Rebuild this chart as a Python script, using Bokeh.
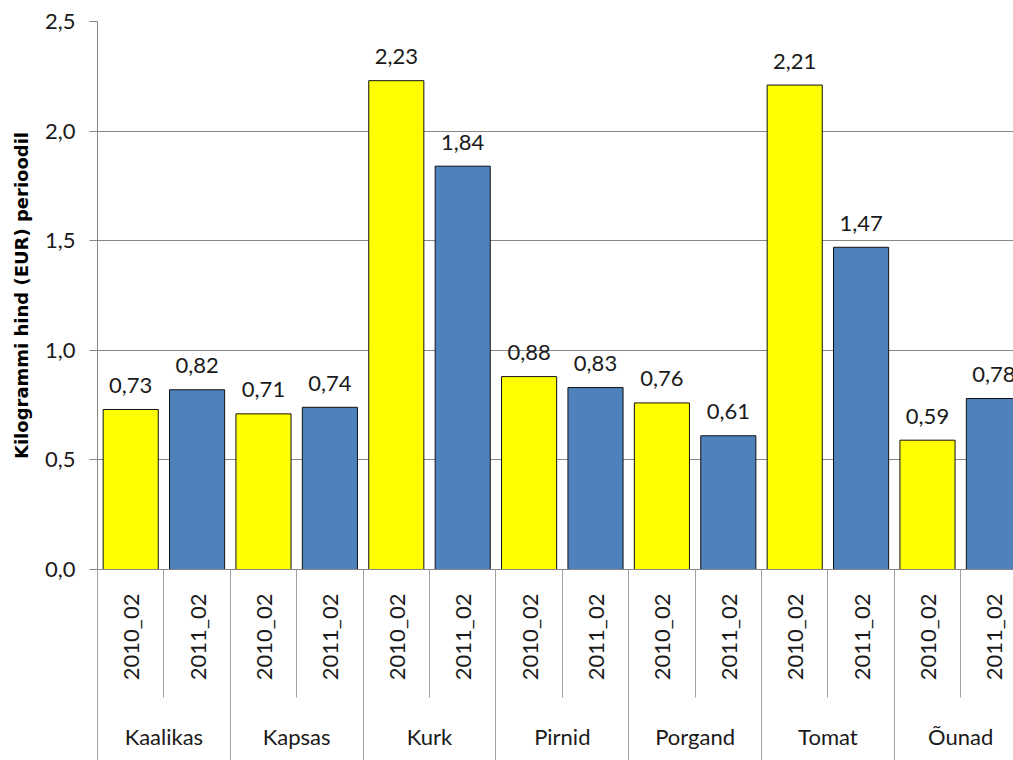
import math
from bokeh.plotting import figure
from bokeh.models import (Range1d, FixedTicker, LinearAxis, CustomJSTickFormatter, ColumnDataSource)
from bokeh.core.properties import value
from bokeh.embed import file_html
from bokeh.resources import INLINE

# ---- data ----
groups = ["Kaalikas", "Kapsas", "Kurk", "Pirnid", "Porgand", "Tomat", "Õunad"]
periods = ["2010_02", "2011_02"]
prices_2010 = [0.73, 0.71, 2.23, 0.88, 0.76, 2.21, 0.59]
prices_2011 = [0.82, 0.74, 1.84, 0.83, 0.61, 1.47, 0.78]
y_ticks = [0.0, 0.5, 1.0, 1.5, 2.0, 2.5]
y_title = "Kilogrammi hind (EUR) perioodil"

period_colors = {"2010_02": "#FFFF00", "2011_02": "#4F81BD"}
FONT = "Lato"
TXT = "#1a1a1a"
GRID = "#878787"
SEP = "#a0a0a0"

# ---- build flat bar table ----
xs, tops, cols, lbls, per = [], [], [], [], []
for gi, g in enumerate(groups):
    for pi_, (pname, vals) in enumerate(zip(periods, [prices_2010, prices_2011])):
        idx = gi * len(periods) + pi_
        xs.append(idx + 0.5)
        tops.append(vals[gi])
        cols.append(period_colors[pname])
        lbls.append(f"{vals[gi]:.2f}".replace(".", ","))
        per.append(pname)
src = ColumnDataSource(dict(x=xs, top=tops, color=cols, label=lbls))

n_bars = len(xs)
slot_px = 66.4
W, H = 1013, 760
LEFT, TOP, BOTTOM = 97, 21, 191
frame_w = W - LEFT

p = figure(width=W, height=H,
           x_range=Range1d(0, frame_w / slot_px), y_range=Range1d(0, 2.5),
           output_backend="svg", toolbar_location=None,
           min_border_left=LEFT, min_border_top=TOP, min_border_right=0,
           min_border_bottom=BOTTOM, x_axis_type=None)
p.outline_line_color = None
p.background_fill_color = "white"
p.border_fill_color = "white"

p.vbar(x="x", top="top", width=0.83, fill_color="color", line_color="#111111",
       line_width=1, source=src)

p.text(x="x", y="top", text="label", source=src, text_align="center",
       text_baseline="alphabetic", y_offset=-24, text_font=value(FONT),
       text_font_size="22px", text_color=TXT)

# ---- y axis ----
ya = p.yaxis[0]
ya.ticker = FixedTicker(ticks=y_ticks)
ya.formatter = CustomJSTickFormatter(code="return tick.toFixed(1).replace('.', ',');")
ya.axis_label = y_title
ya.axis_label_text_font = "DejaVu Sans"
ya.axis_label_text_font_style = "bold"
ya.axis_label_text_font_size = "18px"
ya.axis_label_text_color = "black"
ya.axis_label_standoff = 10
ya.major_label_text_font = FONT
ya.major_label_text_font_size = "22px"
ya.major_label_text_color = TXT
ya.major_label_standoff = 14
ya.major_tick_out = 8
ya.major_tick_in = 0
ya.minor_tick_line_color = None
ya.axis_line_color = GRID
ya.major_tick_line_color = GRID

p.ygrid.ticker = FixedTicker(ticks=y_ticks)
p.ygrid.grid_line_color = GRID
p.xgrid.grid_line_color = None

# ---- x axis: periods ----
centers = xs
boundaries = [float(i) for i in range(n_bars + 1)]
ax1 = LinearAxis(ticker=FixedTicker(ticks=centers, minor_ticks=boundaries),
                 major_label_overrides={c: pr for c, pr in zip(centers, per)})
ax1.major_label_orientation = math.pi / 2
ax1.major_tick_out = 0
ax1.major_tick_in = 0
ax1.major_tick_line_color = None
ax1.minor_tick_out = 0
ax1.minor_tick_in = -128
ax1.minor_tick_line_color = SEP
ax1.axis_line_color = GRID
ax1.major_label_standoff = 24
ax1.major_label_text_font = FONT
ax1.major_label_text_font_size = "22px"
ax1.major_label_text_color = TXT
p.add_layout(ax1, "below")

# ---- x axis: groups ----
gcenters = [gi * len(periods) + len(periods) / 2 for gi in range(len(groups))]
gbounds = [float(gi * len(periods)) for gi in range(len(groups) + 1)]
ax2 = LinearAxis(ticker=FixedTicker(ticks=gcenters, minor_ticks=gbounds),
                 major_label_overrides={c: g for c, g in zip(gcenters, groups)})
ax2.axis_line_color = None
ax2.major_tick_line_color = None
ax2.major_tick_out = 0
ax2.major_tick_in = 0
ax2.minor_tick_in = -90
ax2.minor_tick_out = 0
ax2.minor_tick_line_color = SEP
ax2.major_label_standoff = 39
ax2.major_label_text_font = FONT
ax2.major_label_text_font_size = "22px"
ax2.major_label_text_color = TXT
p.add_layout(ax2, "below")

open("out.html", "w").write(file_html(p, INLINE))
